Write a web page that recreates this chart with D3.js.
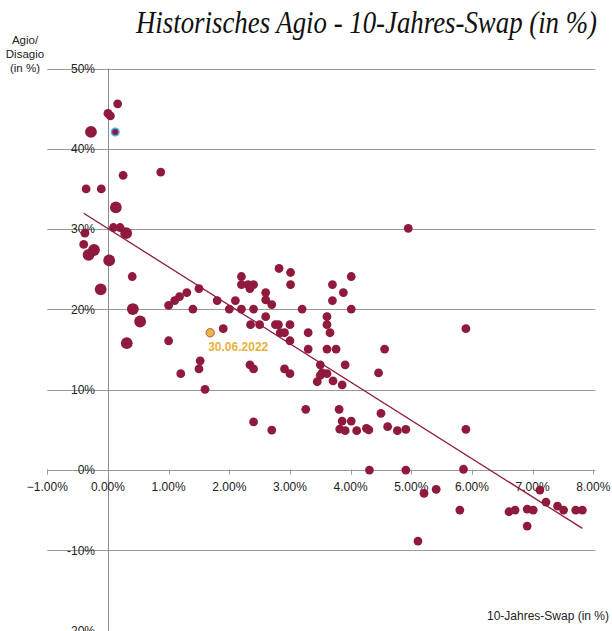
<!DOCTYPE html>
<html>
<head>
<meta charset="utf-8">
<script src="https://cdn.jsdelivr.net/npm/d3@7"></script>
<style>
  html, body { margin: 0; padding: 0; background: #fff; }
  svg { display: block; }
</style>
</head>
<body>
<svg id="chart" width="612" height="631"></svg>
<script>
// ---- data ----
const swapX = [0.16, 0.00, 0.04, -0.28, 0.87, 0.25, -0.36, -0.11, 0.13, 0.09, 0.20, 0.30, -0.38, -0.40, -0.23, -0.32, 0.02, 0.40, -0.12, 0.41, 0.53, 0.31,
  1.00, 1.10, 1.18, 1.30, 1.50, 1.40, 1.80, 2.00, 2.10, 2.20, 2.20, 2.31, 2.40, 2.34, 2.20, 2.40, 2.60, 2.60, 2.70, 2.60, 2.35, 2.50, 2.76, 2.81, 3.00, 2.84, 2.91, 3.00,
  2.82, 3.01, 3.01, 3.20, 3.30, 3.30, 3.61, 3.61, 3.66, 3.61, 3.76, 3.70, 3.70, 3.88, 4.01, 4.01, 1.90, 1.00, 1.52, 1.50, 1.20, 1.60, 2.34, 2.40, 2.91, 3.00,
  3.50, 3.91, 3.53, 3.61, 3.50, 3.45, 3.71, 3.86, 4.46, 4.56, 5.90, 4.95, 3.26, 3.81, 4.50, 3.86, 4.01, 3.82, 3.91, 4.10, 4.26, 4.30, 4.61, 4.77, 4.91, 5.90,
  2.40, 2.70, 4.31, 4.91, 5.86, 5.21, 5.41, 5.80, 5.11, 6.61, 6.71, 6.91, 7.01, 6.91, 7.12, 7.22, 7.41, 7.51, 7.71, 7.82];
const agioY = [45.6, 44.4, 44.1, 42.1, 37.1, 36.7, 35.0, 35.0, 32.7, 30.2, 30.2, 29.5, 29.5, 28.1, 27.4, 26.8, 26.1, 24.1, 22.5, 20.05, 18.5, 15.8,
  20.5, 21.1, 21.6, 22.1, 22.6, 20.05, 21.1, 20.05, 21.1, 24.1, 23.1, 23.1, 23.1, 22.6, 20.05, 20.05, 22.1, 21.2, 20.6, 19.1, 18.1, 18.1, 18.1, 18.1, 18.1, 17.1, 17.1, 16.1,
  25.1, 24.6, 23.1, 20.05, 17.1, 15.07, 19.1, 18.1, 17.1, 15.07, 15.07, 23.1, 21.1, 22.1, 24.1, 20.05, 17.6, 16.1, 13.6, 12.6, 12.0, 10.05, 13.1, 12.6, 12.6, 12.0,
  13.1, 13.1, 12.1, 12.0, 11.8, 11.0, 11.1, 10.6, 12.1, 15.07, 17.6, 30.1, 7.56, 7.56, 7.06, 6.1, 6.1, 5.1, 4.9, 4.9, 5.2, 5.0, 5.4, 4.9, 5.07, 5.07,
  6.0, 4.98, 0.0, 0.0, 0.1, -2.9, -2.4, -4.98, -8.84, -5.19, -4.98, -4.86, -4.98, -6.97, -2.49, -3.99, -4.48, -4.98, -4.98, -4.98];
// point weight class (0 = normal, 1 = heavy)
const weight = [0, 0, 0, 1, 0, 0, 0, 0, 1, 0, 0, 1, 0, 0, 1, 1, 1, 0, 1, 1, 1, 1,
  0,0,0,0,0,0,0,0,0,0,0,0,0,0,0,0,0,0,0,0,0,0,0,0,0,0,0,0,
  0,0,0,0,0,0,0,0,0,0,0,0,0,0,0,0,0,0,0,0,0,0,0,0,0,0,
  0,0,0,0,0,0,0,0,0,0,0,0,0,0,0,0,0,0,0,0,0,0,0,0,0,0,
  0,0,0,0,0,0,0,0,0,0,0,0,0,0,0,0,0,0,0,0];
const markedX = [0.12], markedY = [42.1];
const currentX = [1.685], currentY = [17.1], currentLabel = ["30.06.2022"];
const trendX = [-0.40, 7.82], trendY = [31.97, -7.26];
const xTicks = [-1, 0, 1, 2, 3, 4, 5, 6, 7, 8];
const yTicks = [-20, -10, 0, 10, 20, 30, 40, 50];
const title = "Historisches Agio - 10-Jahres-Swap (in %)";
const yTitle = ["Agio/", "Disagio", "(in %)"];
const xTitle = "10-Jahres-Swap (in %)";

// ---- drawing ----
const svg = d3.select("#chart");
const x = d3.scaleLinear().domain([-1, 8]).range([47.3, 593.3]);
const y = d3.scaleLinear().domain([-20, 50]).range([630.7, 68.5]);
const r = d3.scaleOrdinal().domain([0, 1]).range([4.4, 5.9]);
const red = "#8f1a3c";
const fmtX = d3.format(".2%");

// grid lines
svg.append("g").selectAll("line").data(yTicks).join("line")
  .attr("x1", x(-1)).attr("x2", x(8) + 2)
  .attr("y1", d => Math.round(y(d)) + 0.5).attr("y2", d => Math.round(y(d)) + 0.5)
  .attr("stroke", "#9a9a9a").attr("stroke-width", 1);

// y-axis vertical line at 0
svg.append("line")
  .attr("x1", Math.round(x(0)) + 0.5).attr("x2", Math.round(x(0)) + 0.5)
  .attr("y1", y(50)).attr("y2", 631)
  .attr("stroke", "#8a8a8a").attr("stroke-width", 1);

// x ticks on the 0% line
const x0y = Math.round(y(0)) + 0.5;
svg.append("g").selectAll("line").data(xTicks).join("line")
  .attr("x1", d => Math.round(x(d)) + 0.5).attr("x2", d => Math.round(x(d)) + 0.5)
  .attr("y1", x0y - 1).attr("y2", x0y + 4)
  .attr("stroke", "#9a9a9a");

// y labels
svg.append("g").selectAll("text").data(yTicks).join("text")
  .attr("x", 95).attr("y", d => y(d)).attr("dy", "0.35em")
  .attr("text-anchor", "end")
  .attr("font-family", "Liberation Sans, Arial, sans-serif").attr("font-size", 12)
  .attr("fill", "#222")
  .text(d => d + "%");

// x labels
svg.append("g").selectAll("text").data(xTicks).join("text")
  .attr("x", d => x(d)).attr("y", y(0) + 21)
  .attr("text-anchor", "middle")
  .attr("font-family", "Liberation Sans, Arial, sans-serif").attr("font-size", 12)
  .attr("fill", "#222")
  .text(d => fmtX(d / 100));

// points
const pts = swapX.map((v, i) => ({ x: v, y: agioY[i], w: weight[i] }));
svg.append("g").selectAll("circle").data(pts).join("circle")
  .attr("cx", d => x(d.x)).attr("cy", d => y(d.y)).attr("r", d => r(d.w))
  .attr("fill", red);

// marked point (blue outline)
svg.append("g").selectAll("circle").data(markedX.map((v, i) => ({ x: v, y: markedY[i] }))).join("circle")
  .attr("cx", d => x(d.x)).attr("cy", d => y(d.y)).attr("r", 3.8)
  .attr("fill", red).attr("stroke", "#3fb6e8").attr("stroke-width", 1.5);

// trend line
svg.append("line")
  .attr("x1", x(trendX[0])).attr("y1", y(trendY[0]))
  .attr("x2", x(trendX[1])).attr("y2", y(trendY[1]))
  .attr("stroke", red).attr("stroke-width", 1.3);

// current point
const cur = currentX.map((v, i) => ({ x: v, y: currentY[i], label: currentLabel[i] }));
svg.append("g").selectAll("circle").data(cur).join("circle")
  .attr("cx", d => x(d.x)).attr("cy", d => y(d.y)).attr("r", 4.2)
  .attr("fill", "#eab646").attr("stroke", "#a33a3a").attr("stroke-width", 0.8);
svg.append("g").selectAll("text").data(cur).join("text")
  .attr("x", d => x(d.x) - 2).attr("y", d => y(d.y) + 18)
  .attr("font-family", "Liberation Sans, Arial, sans-serif").attr("font-size", 12).attr("font-weight", "bold")
  .attr("fill", "#e8b23c")
  .text(d => d.label);

// title
svg.append("text")
  .attr("x", 597).attr("y", 33)
  .attr("text-anchor", "end")
  .attr("font-family", "Liberation Serif, Times New Roman, serif").attr("font-style", "italic")
  .attr("font-size", 31)
  .attr("textLength", 461).attr("lengthAdjust", "spacingAndGlyphs")
  .attr("fill", "#111")
  .text(title);

// y title
svg.append("g").selectAll("text").data(yTitle).join("text")
  .attr("x", 25).attr("y", (d, i) => 40 + i * 14).attr("dy", "0.35em")
  .attr("text-anchor", "middle")
  .attr("font-family", "Liberation Sans, Arial, sans-serif").attr("font-size", 11.5)
  .attr("fill", "#222")
  .text(d => d);

// x title
svg.append("text")
  .attr("x", 609).attr("y", 616).attr("dy", "0.35em")
  .attr("text-anchor", "end")
  .attr("font-family", "Liberation Sans, Arial, sans-serif").attr("font-size", 12)
  .attr("fill", "#222")
  .text(xTitle);
</script>
</body>
</html>
